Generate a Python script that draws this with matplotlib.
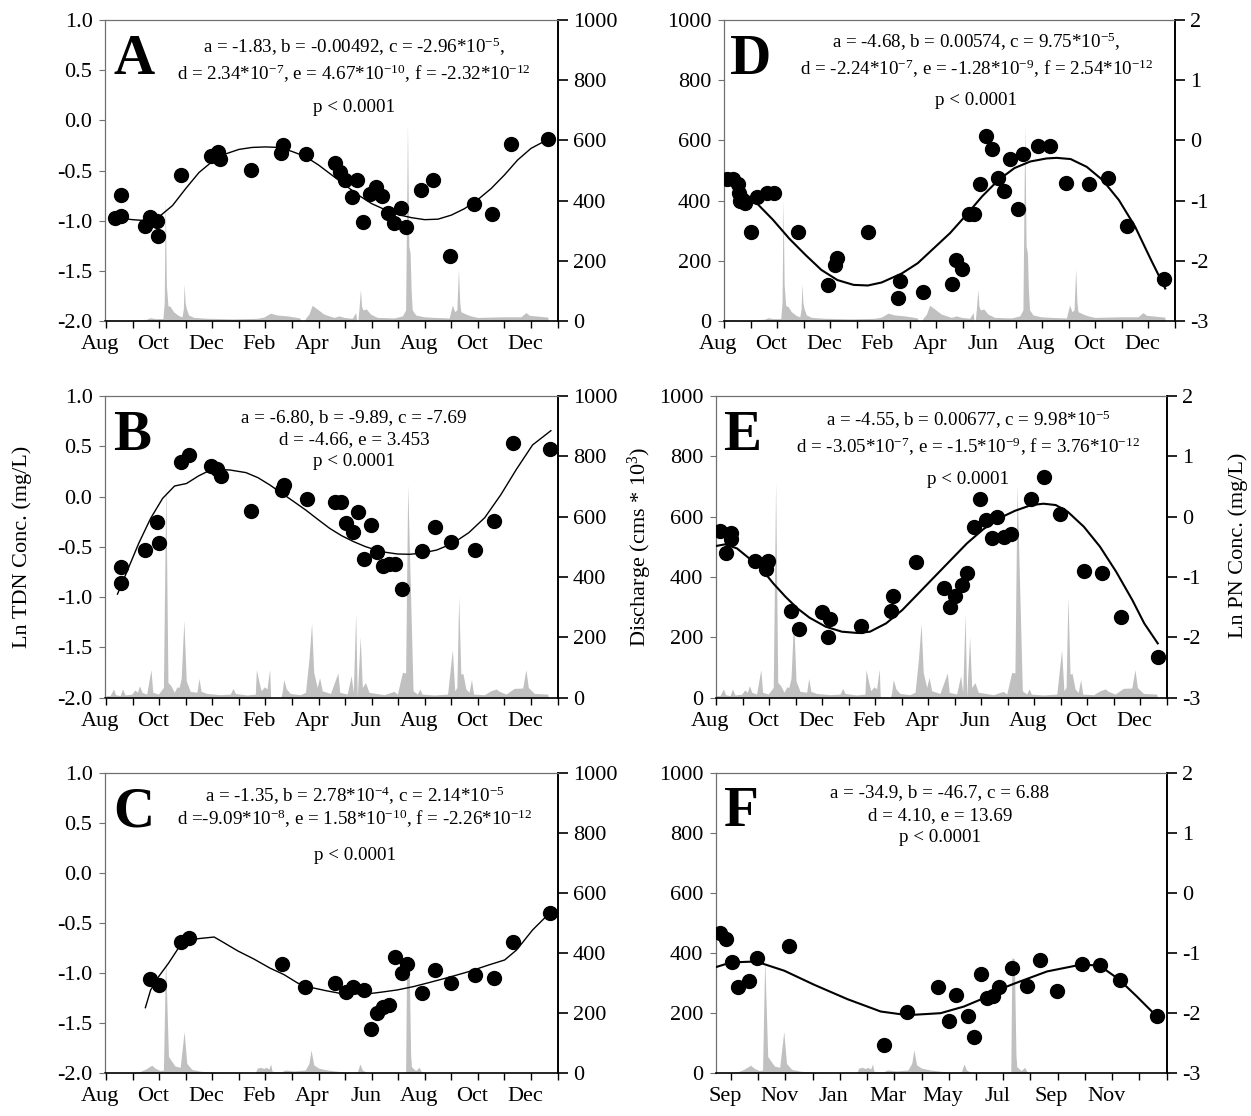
import matplotlib
matplotlib.use('Agg')
import matplotlib.pyplot as plt
import matplotlib.transforms as mtransforms
import numpy as np

plt.rcParams['font.family'] = ['Liberation Serif', 'DejaVu Serif']
plt.rcParams['mathtext.fontset'] = 'custom'
plt.rcParams['mathtext.rm'] = 'Liberation Serif'
plt.rcParams['mathtext.default'] = 'regular'

W, H = 1251, 1116
FS = 16
FILL = '#c0c0c0'
SPINE_GRAY = '#707070'

# ------------------------------------------------------------------ data
# Discharge (cms*10^3); x = months since 1 Aug
Q1_MONTH = [0, 0.53, 1.03, 1.53, 1.66, 1.85, 2.14, 2.19, 2.23, 2.27,
            2.33, 2.42, 2.54, 2.73, 2.86, 2.91, 2.94, 2.98, 3.02, 3.11,
            3.30, 3.80, 4.80, 5.69, 5.94, 6.19, 6.44, 6.82, 7.19, 7.30,
            7.33, 7.47, 7.50, 7.64, 7.76, 7.95, 8.20, 8.58, 8.77, 8.96,
            9.27, 9.40, 9.44, 9.48, 9.52, 9.58, 9.62, 9.67, 9.80, 9.96,
            10.21, 10.84, 11.16, 11.28, 11.35, 11.40, 11.45, 11.49, 11.53, 11.66,
            11.97, 12.35, 12.92, 13.04, 13.13, 13.21, 13.27, 13.32, 13.36, 13.55,
            13.74, 13.99, 14.49, 14.99, 15.62, 15.81, 15.94, 16.63, 16.66]
Q1_VALUE = [3, 2, 3, 6, 11, 8, 8, 60, 410, 120,
            51, 48, 31, 18, 14, 40, 123, 60, 42, 20,
            12, 9, 7, 9, 13, 26, 20, 17, 12, 10,
            0, 0, 8, 23, 52, 40, 23, 12, 17, 12,
            9, 28, 0, 0, 37, 105, 50, 37, 40, 23,
            12, 10, 17, 37, 655, 250, 225, 100, 37, 20,
            14, 12, 10, 53, 31, 37, 173, 60, 31, 23,
            17, 12, 13, 14, 14, 28, 19, 13, 0]

Q2_MONTH = [0, 0.15, 0.28, 0.36, 0.53, 0.62, 0.72, 0.97, 1.09, 1.18,
            1.26, 1.35, 1.53, 1.69, 1.76, 1.97, 2.16, 2.25, 2.33, 2.44,
            2.57, 2.67, 2.75, 2.83, 2.93, 3.02, 3.17, 3.42, 3.50, 3.58,
            3.80, 4.30, 4.68, 4.78, 4.87, 5.31, 5.62, 5.66, 5.75, 5.84,
            5.96, 6.06, 6.16, 6.20, 6.58, 6.63, 6.69, 6.79, 6.94, 7.32,
            7.51, 7.64, 7.74, 7.82, 7.95, 8.04, 8.14, 8.45, 8.73, 8.80,
            9.08, 9.23, 9.31, 9.40, 9.46, 9.57, 9.65, 9.77, 9.90, 10.47,
            10.84, 10.97, 11.16, 11.28, 11.36, 11.46, 11.56, 11.72, 11.82, 11.90,
            12.35, 12.86, 13.04, 13.13, 13.21, 13.28, 13.36, 13.44, 13.55, 13.67,
            13.76, 13.84, 14.25, 14.49, 14.69, 14.81, 15.06, 15.37, 15.69, 15.81,
            15.90, 16.13, 16.63, 16.66]
Q2_VALUE = [7, 7, 29, 10, 7, 29, 9, 12, 26, 18,
            40, 18, 12, 93, 18, 12, 34, 715, 51, 40,
            18, 36, 34, 65, 257, 56, 21, 18, 64, 21,
            14, 10, 12, 31, 14, 9, 12, 93, 56, 23,
            36, 29, 95, 0, 0, 18, 60, 29, 14, 10,
            18, 128, 246, 84, 34, 67, 23, 14, 82, 18,
            12, 73, 18, 279, 1, 202, 34, 50, 18, 10,
            21, 12, 84, 82, 705, 363, 23, 12, 29, 12,
            9, 12, 159, 23, 34, 334, 78, 80, 29, 18,
            60, 12, 10, 23, 29, 21, 12, 31, 32, 93,
            34, 14, 12, 0]

Q3_MONTH = [0, 1.03, 1.28, 1.47, 1.72, 1.85, 2.04, 2.16, 2.24, 2.35,
            2.48, 2.60, 2.79, 2.94, 3.04, 3.23, 3.55, 4.18, 4.80, 5.62,
            5.69, 5.81, 5.94, 6.03, 6.13, 6.20, 6.25, 6.57, 6.75, 7.07,
            7.50, 7.64, 7.72, 7.82, 8.01, 8.33, 8.96, 9.46, 9.56, 9.65,
            9.84, 11.09, 11.28, 11.32, 11.41, 11.47, 11.50, 11.66, 11.79, 11.87,
            11.97]
Q3_VALUE = [1, 2, 6, 13, 27, 17, 9, 11, 382, 56,
            39, 24, 20, 139, 33, 13, 7, 3, 1, 1,
            17, 20, 16, 20, 14, 31, 7, 4, 11, 8,
            11, 33, 78, 28, 17, 11, 4, 4, 31, 11,
            2, 1, 4, 385, 380, 60, 22, 9, 20, 6,
            0]

# Ln TDN (panels A-C), x = months since 1 Aug
A_PT_M = [0.33, 0.55, 0.58, 1.48, 1.67, 1.91, 1.97, 2.82, 3.96, 4.21, 4.30, 5.45,
          6.60, 6.67, 7.52, 8.61, 8.81, 9.00, 9.27, 9.46, 9.69, 9.93, 10.18, 10.39,
          10.61, 10.85, 11.09, 11.31, 11.85, 12.33, 12.94, 13.84, 14.54, 15.25, 16.64]
A_PT_V = [-0.97, -0.74, -0.95, -1.05, -0.96, -1.00, -1.15, -0.545, -0.355, -0.32, -0.39, -0.495,
          -0.33, -0.25, -0.34, -0.43, -0.51, -0.595, -0.76, -0.595, -1.01, -0.73, -0.66, -0.755,
          -0.92, -1.02, -0.87, -1.06, -0.69, -0.59, -1.35, -0.83, -0.93, -0.24, -0.19]
A_FIT_M = [0.33, 1.0, 1.5, 2.0, 2.5, 3.0, 3.5, 4.0, 4.5, 5.0, 5.5, 6.0, 6.5, 7.0, 7.5, 8.0,
           8.5, 9.0, 9.5, 10.0, 10.5, 11.0, 11.5, 12.0, 12.5, 13.0, 13.5, 14.0, 14.5, 15.0,
           15.5, 16.0, 16.64]
A_FIT_V = [-0.97, -0.99, -1.0, -0.96, -0.85, -0.68, -0.52, -0.41, -0.335, -0.29, -0.27, -0.265,
           -0.27, -0.31, -0.36, -0.445, -0.545, -0.645, -0.745, -0.83, -0.89, -0.94, -0.97, -0.99,
           -0.985, -0.945, -0.88, -0.79, -0.68, -0.545, -0.395, -0.28, -0.19]

B_PT_M = [0.55, 0.58, 1.48, 1.90, 1.98, 2.83, 3.13, 3.97, 4.19, 4.31, 5.47, 6.62, 6.70,
          7.55, 8.64, 8.84, 9.03, 9.30, 9.50, 9.72, 9.96, 10.22, 10.43, 10.67, 10.89, 11.15,
          11.91, 12.37, 12.99, 13.89, 14.59, 15.31, 16.70]
B_PT_V = [-0.70, -0.863, -0.53, -0.25, -0.465, 0.34, 0.413, 0.307, 0.274, 0.205, -0.143, 0.065,
          0.115, -0.024, -0.051, -0.051, -0.26, -0.356, -0.15, -0.617, -0.283, -0.555, -0.69,
          -0.674, -0.674, -0.919, -0.538, -0.30, -0.449, -0.531, -0.24, 0.536, 0.47]
B_FIT_M = [0.43, 0.78, 1.23, 1.68, 2.13, 2.58, 3.03, 3.48, 3.93, 4.22, 4.67, 5.27, 5.72, 6.17,
           6.62, 7.07, 7.52, 7.97, 8.42, 8.87, 9.32, 9.77, 10.37, 10.97, 11.42, 11.87, 12.46,
           13.06, 13.66, 14.26, 14.86, 15.46, 16.06, 16.75]
B_FIT_V = [-0.97, -0.75, -0.465, -0.216, -0.018, 0.105, 0.13, 0.205, 0.264, 0.27, 0.264, 0.238,
           0.188, 0.115, 0.032, -0.05, -0.134, -0.226, -0.316, -0.389, -0.448, -0.498, -0.548,
           -0.571, -0.574, -0.564, -0.531, -0.465, -0.359, -0.21, 0.016, 0.274, 0.513, 0.655]

C_PT_M = [1.66, 1.99, 2.82, 3.13, 6.62, 7.49, 8.64, 9.03, 9.29, 9.72, 9.96, 10.19, 10.43,
          10.67, 10.89, 11.13, 11.34, 11.91, 12.37, 12.99, 13.89, 14.59, 15.31, 16.70]
C_PT_V = [-1.062, -1.118, -0.69, -0.653, -0.912, -1.135, -1.095, -1.185, -1.142, -1.168, -1.557,
          -1.394, -1.341, -1.318, -0.839, -0.999, -0.906, -1.195, -0.972, -1.098, -1.022, -1.045,
          -0.693, -0.403]
C_FIT_M = [1.48, 1.68, 1.98, 2.35, 2.80, 3.15, 3.48, 4.07, 4.37, 4.97, 5.57, 6.17, 6.70, 7.22,
           7.75, 8.27, 8.87, 9.17, 9.92, 10.37, 10.97, 11.57, 12.16, 12.91, 13.66, 14.41, 15.01,
           15.46, 16.06, 16.73]
C_FIT_V = [-1.345, -1.168, -1.035, -0.902, -0.72, -0.67, -0.656, -0.64, -0.686, -0.78, -0.86,
           -0.95, -1.015, -1.10, -1.145, -1.175, -1.205, -1.208, -1.205, -1.19, -1.168, -1.135,
           -1.095, -1.042, -0.985, -0.919, -0.869, -0.769, -0.57, -0.393]

# Ln PN (panels D-F); D, E: months since 1 Aug, F: months since 1 Sep
D_PT_M = [0.11, 0.33, 0.52, 0.56, 0.59, 0.79, 1.02, 1.24, 1.62, 1.87, 2.79, 3.93, 4.17, 4.28,
          5.43, 6.56, 6.63, 7.50, 8.59, 8.77, 8.97, 9.23, 9.45, 9.67, 9.89, 10.12, 10.35, 10.58,
          10.80, 11.08, 11.27, 11.84, 12.29, 12.91, 13.79, 14.49, 15.20, 16.60]
D_PT_V = [-0.647, -0.647, -0.73, -0.87, -1.01, -1.045, -1.52, -0.945, -0.88, -0.88, -1.52, -2.41,
          -2.075, -1.95, -1.52, -2.62, -2.34, -2.52, -2.38, -1.98, -2.13, -1.23, -1.23, -0.725,
          0.08, -0.15, -0.62, -0.84, -0.315, -1.145, -0.225, -0.10, -0.10, -0.71, -0.73, -0.63,
          -1.42, -2.30]
D_FIT_M = [0.15, 0.64, 1.24, 1.85, 2.46, 3.07, 3.67, 4.28, 4.89, 5.43, 5.95, 6.71, 7.31, 7.92,
           8.53, 9.14, 9.74, 10.35, 10.96, 11.56, 12.17, 12.55, 13.08, 13.69, 14.29, 14.90,
           15.51, 16.12, 16.65]
D_FIT_V = [-0.70, -0.82, -1.045, -1.32, -1.63, -1.90, -2.15, -2.32, -2.40, -2.41, -2.36, -2.21,
           -2.04, -1.79, -1.54, -1.24, -0.93, -0.66, -0.46, -0.35, -0.30, -0.29, -0.31, -0.44,
           -0.66, -0.99, -1.43, -1.99, -2.46]

E_PT_M = [0.15, 0.37, 0.56, 0.56, 1.48, 1.96, 1.90, 2.82, 3.14, 3.99, 4.31, 4.22, 5.46, 6.61,
          6.68, 7.53, 8.62, 8.83, 9.03, 9.28, 9.47, 9.73, 9.95, 10.20, 10.41, 10.62, 10.87,
          11.13, 11.89, 12.36, 12.97, 13.88, 14.57, 15.28, 16.67]
E_PT_V = [-0.232, -0.597, -0.265, -0.37, -0.729, -0.729, -0.873, -1.558, -1.867, -1.575, -1.70,
          -1.99, -1.81, -1.558, -1.31, -0.757, -1.177, -1.497, -1.32, -1.133, -0.928, -0.166,
          0.287, -0.061, -0.359, -0.006, -0.337, -0.287, 0.293, 0.652, 0.044, -0.895, -0.939,
          -1.663, -2.32]
E_FIT_M = [0.0, 0.33, 0.79, 1.25, 1.70, 2.16, 2.62, 3.07, 3.53, 4.14, 4.75, 5.36, 5.81, 6.42,
           7.03, 7.64, 8.25, 8.86, 9.47, 10.08, 10.68, 11.29, 11.90, 12.36, 12.82, 13.27, 13.88,
           14.49, 15.10, 15.71, 16.16, 16.67]
E_FIT_V = [-0.486, -0.459, -0.525, -0.69, -0.856, -1.105, -1.326, -1.519, -1.674, -1.823,
           -1.906, -1.928, -1.906, -1.768, -1.547, -1.271, -0.994, -0.718, -0.442, -0.21, -0.028,
           0.099, 0.193, 0.215, 0.193, 0.083, -0.166, -0.497, -0.912, -1.381, -1.768, -2.10]

F_PT_M = [-0.41, -0.19, 0.03, 0.27, 0.67, 0.95, 2.12, 5.61, 6.46, 7.62, 8.02, 8.28, 8.70, 8.93,
          9.17, 9.39, 9.62, 9.85, 10.33, 10.89, 11.36, 11.97, 12.88, 13.55, 14.28, 15.65]
F_PT_V = [-0.672, -0.766, -1.154, -1.564, -1.47, -1.082, -0.882, -2.534, -1.975, -1.564, -2.13,
          -1.697, -2.052, -2.39, -1.354, -1.742, -1.708, -1.559, -1.254, -1.548, -1.11, -1.625,
          -1.176, -1.193, -1.448, -2.052]
F_FIT_M = [-0.55, 0.0, 0.92, 1.96, 3.06, 4.28, 5.50, 6.48, 7.70, 8.56, 9.38, 9.84, 10.39, 11.61,
           12.84, 13.53, 14.24, 14.91, 15.62]
F_FIT_V = [-1.233, -1.156, -1.14, -1.294, -1.528, -1.767, -1.972, -2.033, -2.0, -1.889, -1.733,
           -1.61, -1.511, -1.306, -1.194, -1.206, -1.433, -1.722, -2.044]

AUG_LABELS = ['Aug', 'Oct', 'Dec', 'Feb', 'Apr', 'Jun', 'Aug', 'Oct', 'Dec']
SEP_LABELS = ['Sep', 'Nov', 'Jan', 'Mar', 'May', 'Jul', 'Sep', 'Nov']

TDN_TICKS = [-2.0, -1.5, -1.0, -0.5, 0.0, 0.5, 1.0]
TDN_LABELS = ['-2.0', '-1.5', '-1.0', '-0.5', '0.0', '0.5', '1.0']
PN_TICKS = [-3, -2, -1, 0, 1, 2]
PN_LABELS = ['-3', '-2', '-1', '0', '1', '2']
Q_TICKS = [0, 200, 400, 600, 800, 1000]

TXT = {
    'A': ['a = -1.83, b = -0.00492, c = -2.96*10$^{-5}$,',
          'd = 2.34*10$^{-7}$, e = 4.67*10$^{-10}$, f = -2.32*10$^{-12}$',
          'p < 0.0001'],
    'B': ['a = -6.80, b = -9.89, c = -7.69', 'd = -4.66, e = 3.453', 'p < 0.0001'],
    'C': ['a = -1.35, b = 2.78*10$^{-4}$, c = 2.14*10$^{-5}$',
          'd =-9.09*10$^{-8}$, e = 1.58*10$^{-10}$, f = -2.26*10$^{-12}$',
          'p < 0.0001'],
    'D': ['a = -4.68, b = 0.00574, c = 9.75*10$^{-5}$,',
          'd = -2.24*10$^{-7}$, e = -1.28*10$^{-9}$, f = 2.54*10$^{-12}$',
          'p < 0.0001'],
    'E': ['a = -4.55, b = 0.00677, c = 9.98*10$^{-5}$',
          'd = -3.05*10$^{-7}$, e = -1.5*10$^{-9}$, f = 3.76*10$^{-12}$',
          'p < 0.0001'],
    'F': ['a = -34.9, b = -46.7, c = 6.88', 'd = 4.10, e = 13.69', 'p < 0.0001'],
}

fig = plt.figure(figsize=(W / 100, H / 100), dpi=100)


def rect(x0, top, x1, bottom):
    return [x0 / W, 1 - bottom / H, (x1 - x0) / W, (bottom - top) / H]


def panel(r, qx, qy, px, py, fx, fy, letter, letter_x, text_x, text_ys,
          conc_left, xlim, n_months, labels, curve_lw):
    axq = fig.add_axes(r)
    axc = axq.twinx()
    axq.fill_between(qx, 0, qy, color=FILL, lw=0)
    axq.set_xlim(*xlim)
    axq.set_ylim(0, 1000)
    axq.set_yticks(Q_TICKS)
    axq.set_yticklabels([str(t) for t in Q_TICKS])
    if conc_left:
        axc.set_ylim(-2.0, 1.0)
        axc.set_yticks(TDN_TICKS)
        axc.set_yticklabels(TDN_LABELS)
        axq.yaxis.tick_right()
        axc.yaxis.tick_left()
        left_ax, right_ax = axc, axq
    else:
        axc.set_ylim(-3, 2)
        axc.set_yticks(PN_TICKS)
        axc.set_yticklabels(PN_LABELS)
        left_ax, right_ax = axq, axc
    axc.plot(fx, fy, color='k', lw=curve_lw, zorder=3)
    axc.plot(px, py, 'o', color='k', ms=10, zorder=4)

    left_ax.tick_params(axis='y', direction='out', length=4, width=0.8,
                        color=SPINE_GRAY, pad=5, labelsize=FS)
    right_ax.tick_params(axis='y', direction='out', length=7, width=1.2,
                         color='k', pad=4, labelsize=FS)
    for s in axc.spines.values():
        s.set_visible(False)
    axq.spines['left'].set_color(SPINE_GRAY)
    axq.spines['top'].set_color(SPINE_GRAY)
    axq.spines['left'].set_linewidth(0.9)
    axq.spines['top'].set_linewidth(0.9)
    axq.spines['right'].set_linewidth(1.4)
    axq.spines['bottom'].set_linewidth(1.2)

    ticks = list(range(0, n_months + 1))
    axq.set_xticks(ticks)
    axq.set_xticklabels([labels[i // 2] if i % 2 == 0 and i // 2 < len(labels) else ''
                         for i in ticks])
    axq.tick_params(axis='x', direction='out', length=5, width=1.0, pad=5, labelsize=FS)
    off = mtransforms.ScaledTranslation(-6 / 100, 0, fig.dpi_scale_trans)
    for lbl in axq.get_xticklabels():
        lbl.set_transform(lbl.get_transform() + off)

    axc.text(letter_x, 0.822, letter, transform=axc.transAxes, fontsize=41,
             fontweight='bold', ha='left', va='baseline')
    for line, y in zip(TXT[letter], text_ys):
        axc.text(text_x, y, line, transform=axc.transAxes, fontsize=13.7,
                 ha='center', va='baseline')
    return axq, axc


q3_sep = np.array(Q3_MONTH) - 1.0

panel(rect(105, 20, 557.5, 321), Q1_MONTH, Q1_VALUE, A_PT_M, A_PT_V, A_FIT_M, A_FIT_V,
      'A', 0.018, 0.55, [0.889, 0.80, 0.695], True, (-0.04, 17.0), 17, AUG_LABELS, 1.0)
panel(rect(105, 396, 557.5, 697.7), Q2_MONTH, Q2_VALUE, B_PT_M, B_PT_V, B_FIT_M, B_FIT_V,
      'B', 0.018, 0.55, [0.912, 0.84, 0.767], True, (-0.04, 17.0), 17, AUG_LABELS, 1.0)
panel(rect(105, 772.7, 557.5, 1073.3), Q3_MONTH, Q3_VALUE, C_PT_M, C_PT_V, C_FIT_M, C_FIT_V,
      'C', 0.018, 0.552, [0.902, 0.825, 0.709], True, (-0.04, 17.0), 17, AUG_LABELS, 1.0)
panel(rect(724, 20, 1174.5, 321), Q1_MONTH, Q1_VALUE, D_PT_M, D_PT_V, D_FIT_M, D_FIT_V,
      'D', 0.013, 0.56, [0.906, 0.817, 0.718], False, (0.0, 17.0), 17, AUG_LABELS, 1.5)
panel(rect(716, 396, 1166.5, 697.7), Q2_MONTH, Q2_VALUE, E_PT_M, E_PT_V, E_FIT_M, E_FIT_V,
      'E', 0.015, 0.56, [0.90, 0.812, 0.707], False, (0.0, 17.0), 17, AUG_LABELS, 1.5)
panel(rect(716, 772.7, 1166.5, 1073.3), q3_sep, Q3_VALUE, F_PT_M, F_PT_V, F_FIT_M, F_FIT_V,
      'F', 0.018, 0.497, [0.919, 0.841, 0.769], False, (-0.55, 16.0), 16, SEP_LABELS, 1.5)

fig.text(22 / W, 1 - 547 / H, 'Ln TDN Conc. (mg/L)', rotation=90, ha='center',
         va='center', fontsize=16)
fig.text(640 / W, 1 - 547 / H, 'Discharge (cms * 10$^{3}$)', rotation=90, ha='center',
         va='center', fontsize=16)
fig.text(1238 / W, 1 - 545 / H, 'Ln PN Conc. (mg/L)', rotation=90, ha='center',
         va='center', fontsize=16)

fig.savefig('out.png', dpi=100)
